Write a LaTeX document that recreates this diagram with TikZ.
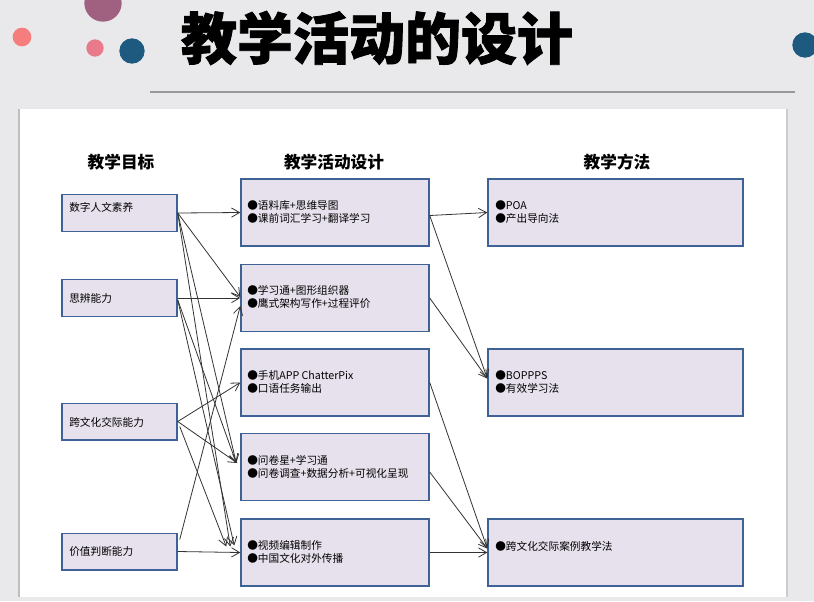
\documentclass[tikz,border=0pt]{standalone}
\usepackage{fontspec}
\setmainfont{Noto Sans CJK SC}
\newfontfamily\titlefont{Noto Sans CJK SC}[BoldFeatures={FakeBold=1.5}]
\usetikzlibrary{arrows.meta,calc}
\definecolor{bgc}{RGB}{233,233,235}
\definecolor{boxfill}{RGB}{231,225,237}
\definecolor{boxline}{RGB}{62,98,150}
\definecolor{cmauve}{RGB}{160,96,128}
\definecolor{csalmon}{RGB}{245,125,125}
\definecolor{cpink}{RGB}{232,122,140}
\definecolor{cblue}{RGB}{30,90,128}
\tikzset{
  boxbase/.style={draw=boxline, fill=boxfill, line width=1.1pt, inner sep=0pt},
  lbox/.style={boxbase, minimum width=86.25pt, minimum height=27.4pt},
  mbox/.style={boxbase, minimum width=141pt, minimum height=50.25pt},
  rbox/.style={boxbase, minimum width=191.25pt, minimum height=50.25pt},
  txt/.style={anchor=west, align=left, inner sep=0pt, font=\fontsize{8}{9.75}\selectfont},
  head/.style={font=\bfseries\fontsize{12.5}{14}\selectfont},
  arr/.style={-{Straight Barb[length=6pt,width=7pt]}, line width=0.6pt, draw=black!80}
}
\begin{document}
\begin{tikzpicture}[x=0.75pt,y=-0.75pt]
\useasboundingbox (0,0) rectangle (814,601);
\fill[bgc] (0,0) rectangle (814,601);
% decorative circles
\fill[cmauve] (103,3) circle[radius=14pt];
\fill[csalmon] (22,37) circle[radius=7pt];
\fill[cpink] (95,48) circle[radius=6.5pt];
\fill[cblue] (132,51) circle[radius=9.5pt];
\fill[cblue] (805,45) circle[radius=9.5pt];
% title
\node[font=\titlefont\bfseries\fontsize{42}{44}\selectfont] (title) at (377,38) {教学活动的设计};
\draw[black!40, line width=0.8pt] (150,92) -- (795,92);
% panel
\fill[white] (19,109) rectangle (788,597);
\draw[black!25, line width=1.8pt] (19,109) -- (19,597);
\draw[black!20, line width=1.5pt] (787,109) -- (787,597);
% headings
\node[head] (h1) at (121,162) {教学目标};
\node[head] (h2) at (334,162) {教学活动设计};
\node[head] (h3) at (617,162) {教学方法};
% left boxes
\node[lbox] (l1) at (119.5,213) {};
\node[lbox] (l2) at (119.5,298) {};
\node[lbox] (l3) at (119.5,421.5) {};
\node[lbox] (l4) at (119.5,551.5) {};
\node[txt] (tl1) at (69,207) {数字人文素养};
\node[txt] (tl2) at (69,298) {思辨能力};
\node[txt] (tl3) at (69,422) {跨文化交际能力};
\node[txt] (tl4) at (69,551) {价值判断能力};
% middle boxes
\node[mbox] (m1) at (335,212.5) {};
\node[mbox] (m2) at (335,298) {};
\node[mbox] (m3) at (335,382.5) {};
\node[mbox] (m4) at (335,467) {};
\node[mbox] (m5) at (335,552.5) {};
\node[txt] (tm1) at (247,211.5) {●语料库+思维导图\\●课前词汇学习+翻译学习};
\node[txt] (tm2) at (247,297) {●学习通+图形组织器\\●鹰式架构写作+过程评价};
\node[txt] (tm3) at (247,382) {●手机APP ChatterPix\\●口语任务输出};
\node[txt] (tm4) at (247,466.5) {●问卷星+学习通\\●问卷调查+数据分析+可视化呈现};
\node[txt] (tm5) at (247,552) {●视频编辑制作\\●中国文化对外传播};
% right boxes
\node[rbox] (n1) at (615.5,212.5) {};
\node[rbox] (n2) at (615.5,382.5) {};
\node[rbox] (n3) at (615.5,552.5) {};
\node[txt] (tn1) at (495,212.5) {●POA\\●产出导向法};
\node[txt] (tn2) at (495,382.5) {●BOPPPS\\●有效学习法};
\node[txt] (tn3) at (495,546) {●跨文化交际案例教学法};
% connectors left -> middle
\draw[arr] (l1.east) -- (m1.west);
\draw[arr] (l1.east) -- ($(m2.west)+(0,-1)$);
\draw[arr] (l1.east) -- ($(m4.west)+(-4,-4)$);
\draw[arr] (l1.east) -- ($(m5.west)+(-10,-6)$);
\draw[arr] (l2.east) -- (m2.west);
\draw[arr] ($(l2.east)+(0,2)$) -- ($(m4.west)+(-4,-4)$);
\draw[arr] ($(l2.east)+(0,2)$) -- ($(m5.west)+(-6,-7)$);
\draw[arr] (l3.east) -- (m3.west);
\draw[arr] (l3.east) -- ($(m4.west)+(-3,-4)$);
\draw[arr] ($(l3.east)+(2,5)$) -- ($(m5.west)+(-14,-6)$);
\draw[arr] ($(l4.east)+(2,-12)$) -- ($(m2.west)+(0,8)$);
\draw[arr] (l4.east) -- (m5.west);
% connectors middle -> right
\draw[arr] ($(m1.east)+(0,3)$) -- (n1.west);
\draw[arr] ($(m1.east)+(0,3)$) -- ($(n2.west)+(0,-4)$);
\draw[arr] (m2.east) -- ($(n2.west)+(0,-4)$);
\draw[arr] (m3.east) -- ($(n3.west)+(0,-4)$);
\draw[arr] ($(m4.east)+(0,5)$) -- ($(n3.west)+(0,-4)$);
\draw[arr] (m5.east) -- (n3.west);
\end{tikzpicture}
\end{document}
